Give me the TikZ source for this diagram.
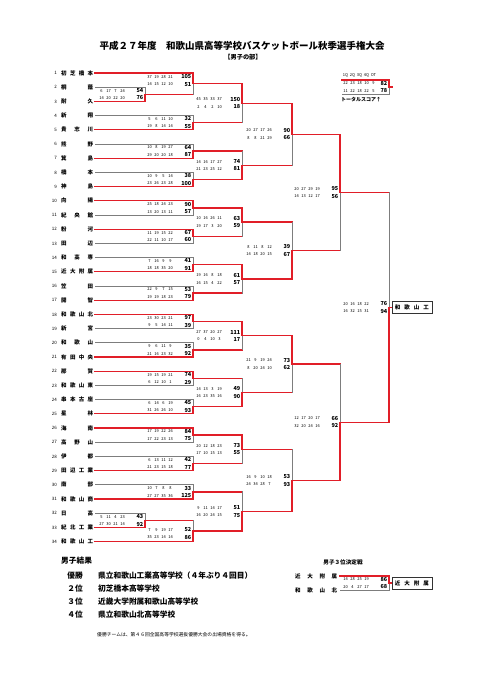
\documentclass[tikz,border=0pt]{standalone}
\usepackage{fontspec}
\setmainfont{Noto Sans CJK JP}
\usetikzlibrary{calc,positioning}
\definecolor{bred}{RGB}{225,30,40}
\definecolor{bgray}{RGB}{125,125,125}
\tikzset{
	win/.style={draw=bred,line width=1.3pt,line cap=rect},
	lose/.style={draw=bgray,line width=1pt,line cap=rect},
	tname/.style={inner sep=0pt,anchor=west,font=\bfseries\fontsize{5.5}{6}\selectfont},
	tnum/.style={inner sep=0pt,anchor=east,font=\fontsize{4.5}{5}\selectfont},
	qt/.style={inner sep=0pt,font=\fontsize{4}{4}\selectfont},
	tot/.style={inner sep=0pt,anchor=east,font=\bfseries\fontsize{5.5}{6}\selectfont},
	champ/.style={draw=black!80,line width=0.8pt,anchor=west,inner sep=3pt,minimum height=12pt,font=\bfseries\fontsize{5.5}{6}\selectfont},
	reshead/.style={inner sep=0pt,anchor=west,font=\bfseries\fontsize{7.7}{8}\selectfont},
	resrank/.style={inner sep=0pt,anchor=east,font=\bfseries\fontsize{7.7}{8}\selectfont},
	resname/.style={inner sep=0pt,anchor=west,font=\bfseries\fontsize{7.7}{8}\selectfont}
}
% one game: name, column, top entry, bottom entry, winner (t/b)
\newcommand{\matchline}[6][win]{%
	\coordinate (#2h) at ($(#4)!0.5!(#5)$);
	\coordinate (#2) at (#2h -| #3);
	\if#6t
		\draw[#1] (#5) -- (#5 -| #3);
		\draw[lose] (#5 -| #3) -- (#2);
		\draw[win] (#4) -| (#2);
	\else
		\draw[#1] (#4) -- (#4 -| #3);
		\draw[lose] (#4 -| #3) -- (#2);
		\draw[win] (#5) -| (#2);
	\fi
}
\def\sshift{0}
\newcommand{\matchscore}[5]{%
	\foreach \q [count=\k] in {#2} {\node[qt] (#1-t\k) at ($(#1)+(7*\k-50.5,\sshift-3.7)$) {\q};}
	\node[tot] (#1-T) at ($(#1)+(-1.5,\sshift-3.7)$) {#3};
	\foreach \q [count=\k] in {#4} {\node[qt] (#1-b\k) at ($(#1)+(7*\k-50.5,\sshift+3.7)$) {\q};}
	\node[tot] (#1-B) at ($(#1)+(-1.5,\sshift+3.7)$) {#5};
}

\begin{document}
\begin{tikzpicture}[x=1pt,y=-1pt]
	\fill[white] (0,0) rectangle (481,680);
	\useasboundingbox (0,0) rectangle (481,680);
	
	\node[inner sep=0pt,font=\bfseries\fontsize{9.5}{10}\selectfont] (title) at (242,46) {平成２７年度　和歌山県高等学校バスケットボール秋季選手権大会};
	\node[inner sep=0pt,font=\bfseries\fontsize{6.2}{7}\selectfont] (sub) at (243,57) {【男子の部】};
	
	% teams
	\foreach \nm [count=\i] in {初 芝 橋 本, 桐 蔭, 耐 久, 新 翔, 貴 志 川, 熊 野, 箕 島, 橋 本, 神 島, 向 陽, 紀 央 館, 粉 河, 田 辺, 和 高 専, 近 大 附 属, 笠 田, 開 智, 和 歌 山 北, 新 宮, 和 歌 山, 有 田 中 央, 那 賀, 和 歌 山 東, 串 本 古 座, 星 林, 海 南, 高 野 山, 伊 都, 田 辺 工 業, 南 部, 和 歌 山 商, 日 高, 紀 北 工 業, 和 歌 山 工} {
		\node[tnum] (i\i) at (57,{73+(\i-1)*14.2}) {\i};
		\node[tname] (n\i) at (61,{73+(\i-1)*14.2}) {\makebox[32pt][s]{\ignorespaces\nm\unskip}};
		\coordinate (s\i) at (95,{73+(\i-1)*14.2});
	}
	
	\coordinate (c0) at (145,0);
	\coordinate (c1) at (193,0);
	\coordinate (c2) at (242,0);
	\coordinate (c3) at (292,0);
	\coordinate (c4) at (340,0);
	\coordinate (c5) at (389,0);
	
	% first round
	\matchline[lose]{p1}{c0}{s2}{s3}{b}
	\matchline{a1}{c1}{s1}{p1}{t}
	\matchline[lose]{a2}{c1}{s4}{s5}{b}
	\matchline[lose]{a3}{c1}{s6}{s7}{b}
	\matchline[lose]{a4}{c1}{s8}{s9}{b}
	\matchline[lose]{a5}{c1}{s10}{s11}{t}
	\matchline[lose]{a6}{c1}{s12}{s13}{t}
	\matchline[lose]{a7}{c1}{s14}{s15}{b}
	\matchline[lose]{a8}{c1}{s16}{s17}{b}
	\matchline[lose]{a9}{c1}{s18}{s19}{t}
	\matchline[lose]{a10}{c1}{s20}{s21}{b}
	\matchline[lose]{a11}{c1}{s22}{s23}{t}
	\matchline[lose]{a12}{c1}{s24}{s25}{b}
	\matchline[lose]{a13}{c1}{s26}{s27}{t}
	\matchline[lose]{a14}{c1}{s28}{s29}{b}
	\matchline[lose]{a15}{c1}{s30}{s31}{b}
	\matchline[lose]{p2}{c0}{s32}{s33}{b}
	\matchline{a16}{c1}{p2}{s34}{b}
	
	\matchscore{p1}{6,17,7,24}{54}{14,20,22,20}{76}
	\def\sshift{-3.2}
	\matchscore{a1}{37,19,28,21}{105}{14,15,12,10}{51}
	\def\sshift{0}
	\matchscore{a2}{5,6,11,10}{32}{19,8,14,14}{55}
	\matchscore{a3}{10,8,19,27}{64}{29,20,20,18}{87}
	\matchscore{a4}{10,9,5,14}{38}{23,26,23,28}{100}
	\matchscore{a5}{25,18,24,23}{90}{13,20,13,11}{57}
	\matchscore{a6}{11,19,15,22}{67}{22,11,10,17}{60}
	\matchscore{a7}{7,16,9,9}{41}{18,18,35,20}{91}
	\matchscore{a8}{22,9,7,15}{53}{19,19,18,23}{79}
	\matchscore{a9}{23,30,23,21}{97}{9,5,14,11}{39}
	\matchscore{a10}{9,6,11,9}{35}{21,16,23,32}{92}
	\matchscore{a11}{19,15,19,21}{74}{6,12,10,1}{29}
	\matchscore{a12}{6,14,6,19}{45}{31,26,26,10}{93}
	\matchscore{a13}{17,19,22,26}{84}{17,22,23,13}{75}
	\matchscore{a14}{6,13,11,12}{42}{21,23,15,18}{77}
	\matchscore{a15}{10,7,8,8}{33}{27,27,35,36}{125}
	\matchscore{p2}{5,11,4,23}{43}{27,30,21,14}{92}
	\def\sshift{2.5}
	\matchscore{a16}{7,9,19,17}{52}{35,23,14,14}{86}
	\def\sshift{0}
	
	% second round
	\matchline{b1}{c2}{a1}{a2}{t}
	\matchline{b2}{c2}{a3}{a4}{b}
	\matchline{b3}{c2}{a5}{a6}{t}
	\matchline{b4}{c2}{a7}{a8}{t}
	\matchline{b5}{c2}{a9}{a10}{t}
	\matchline{b6}{c2}{a11}{a12}{b}
	\matchline{b7}{c2}{a13}{a14}{t}
	\matchline{b8}{c2}{a15}{a16}{b}
	
	\matchscore{b1}{45,35,33,37}{150}{2,4,2,10}{18}
	\matchscore{b2}{14,16,17,27}{74}{21,23,25,12}{81}
	\matchscore{b3}{10,16,26,11}{63}{19,17,3,20}{59}
	\matchscore{b4}{19,16,8,18}{61}{16,15,4,22}{57}
	\matchscore{b5}{27,37,20,27}{111}{0,4,10,3}{17}
	\matchscore{b6}{14,13,3,19}{49}{16,23,35,16}{90}
	\matchscore{b7}{20,12,18,23}{73}{17,10,15,13}{55}
	\matchscore{b8}{9,11,14,17}{51}{16,20,24,15}{75}
	
	% third round
	\matchline{r1}{c3}{b1}{b2}{t}
	\matchline{r2}{c3}{b3}{b4}{b}
	\matchline{r3}{c3}{b5}{b6}{t}
	\matchline{r4}{c3}{b7}{b8}{b}
	
	\matchscore{r1}{20,27,17,26}{90}{8,8,21,29}{66}
	\matchscore{r2}{8,11,8,12}{39}{14,18,20,15}{67}
	\matchscore{r3}{21,9,19,24}{73}{8,20,24,10}{62}
	\matchscore{r4}{16,9,10,18}{53}{24,34,28,7}{93}
	
	% semi final, final
	\matchline{q1}{c4}{r1}{r2}{t}
	\matchline{q2}{c4}{r3}{r4}{b}
	\matchline{fin}{c5}{q1}{q2}{b}
	
	\matchscore{q1}{20,27,29,19}{95}{14,13,12,17}{56}
	\matchscore{q2}{12,17,20,17}{66}{32,20,24,16}{92}
	\matchscore{fin}{20,16,18,22}{76}{16,32,15,31}{94}
	
	\node[champ] (champ) at ($(fin)+(2.5,0)$) {\makebox[34pt][s]{和 歌 山 工}};
	\draw[win] (fin) -- (champ.west);
	
	% how to read the scores
	\coordinate (l1) at (342,80);
	\coordinate (l2) at (342,94);
	\matchline[lose]{leg}{c5}{l1}{l2}{t}
	\foreach \h [count=\k] in {1Q,2Q,3Q,4Q,OT} {\node[qt] (leg-h\k) at ($(leg)+(7*\k-50.5,-12)$) {\h};}
	\matchscore{leg}{22,23,18,10,9}{82}{11,22,18,22,5}{78}
	\coordinate (leg end) at ($(leg)+(3,0)$);
	\draw[win] (leg) -- (leg end);
	\node[tname,font=\bfseries\fontsize{5}{6}\selectfont] (total) at (341,99.5) {トータルスコア↑};
	
	% results
	\node[reshead] (res) at (61,561) {男子結果};
	\foreach \rk/\rs/\yy [count=\j] in {優勝/県立和歌山工業高等学校（４年ぶり４回目）/576, ２位/初芝橋本高等学校/589, ３位/近畿大学附属和歌山高等学校/602, ４位/県立和歌山北高等学校/615} {
		\node[resrank] (rk\j) at (83,\yy) {\rk};
		\node[resname] (rn\j) at (98,\yy) {\rs};
	}
	\node[inner sep=0pt,anchor=west,font=\fontsize{4.8}{5}\selectfont] (foot) at (97,635) {優勝チームは、第４６回全国高等学校選抜優勝大会の出場資格を得る。};
	
	% third place game
	\node[inner sep=0pt,font=\bfseries\fontsize{5.6}{6}\selectfont] (third title) at (343,562) {男子３位決定戦};
	\node[tname] (k1) at (295,576) {\makebox[42pt][s]{近 大 附 属}};
	\node[tname] (k2) at (295,590) {\makebox[42pt][s]{和 歌 山 北}};
	\coordinate (u1) at (340,576);
	\coordinate (u2) at (340,590);
	\matchline[lose]{third}{c5}{u1}{u2}{t}
	\matchscore{third}{14,28,25,19}{86}{20,4,27,17}{68}
	\node[champ] (third champ) at ($(third)+(2.5,0)$) {\makebox[34pt][s]{近 大 附 属}};
	\draw[win] (third) -- (third champ.west);
\end{tikzpicture}
\end{document}
